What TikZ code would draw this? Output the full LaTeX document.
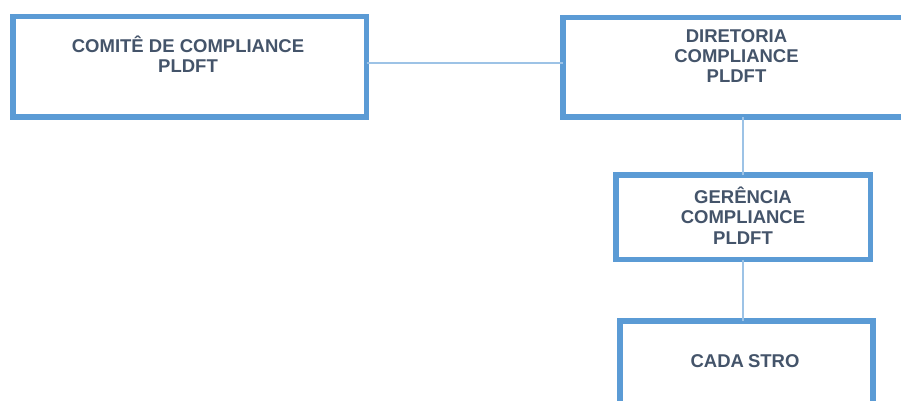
\documentclass[tikz,border=0pt]{standalone}
\usepackage{fontspec}
\setmainfont{Liberation Sans}
\usetikzlibrary{calc}
\definecolor{boxblue}{HTML}{5B9BD5}
\definecolor{linkblue}{HTML}{9DC3E6}
\definecolor{txt}{HTML}{44546A}
\begin{document}
\begin{tikzpicture}[x=1pt,y=-1pt,
  orgbox/.style={draw=boxblue,line width=5.5pt,fill=white,rectangle,inner sep=0pt,outer sep=0pt},
  lbl/.style={font=\fontsize{18.5}{20.3}\selectfont\bfseries,text=txt,align=center,inner sep=0pt,anchor=base},
  link/.style={draw=linkblue,line width=2pt}]
\useasboundingbox (0,0) rectangle (901,401);
\clip (0,0) rectangle (901,401);
\node[orgbox,minimum width=353.5pt,minimum height=100.5pt] (comite) at (189.75,66.75) {};
\node[orgbox,minimum width=377pt,minimum height=99.5pt] (diretoria) at (751.5,67.25) {};
\node[orgbox,minimum width=254.5pt,minimum height=84.5pt] (gerencia) at (743.25,217.25) {};
\node[orgbox,minimum width=253pt,minimum height=119pt] (cadastro) at (746.5,380.5) {};
\node[lbl] (tcomite) at (188,73) {COMITÊ DE COMPLIANCE\\PLDFT};
\node[lbl] (tdiretoria) at (736.5,83) {DIRETORIA\\COMPLIANCE\\PLDFT};
\node[lbl] (tgerencia) at (743,244) {GERÊNCIA\\COMPLIANCE\\PLDFT};
\node[lbl] (tcadastro) at (745,367) {CADA\kern4pt STRO};
\draw[link] ($(comite.east)+(0,-3.75)$) -- ($(diretoria.west)+(0,-4.25)$);
\draw[link] (gerencia.north) -- (gerencia.north |- diretoria.south);
\draw[link] (gerencia.south) -- (gerencia.south |- cadastro.north);
\end{tikzpicture}
\end{document}
